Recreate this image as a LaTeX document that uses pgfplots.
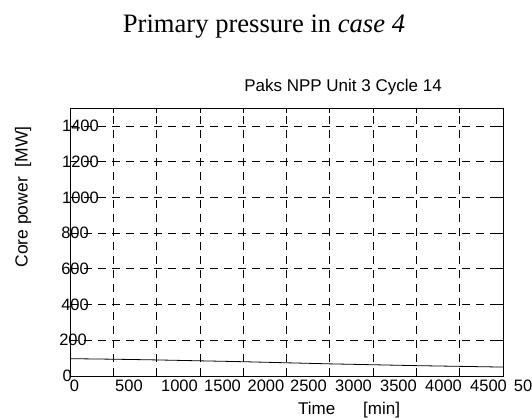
\documentclass[border=0pt]{standalone}
\usepackage{fontspec}
\setmainfont{Liberation Sans}
\newfontfamily\seriffont{Liberation Serif}
\usepackage{pgfplots}
\pgfplotsset{compat=1.18}
\begin{document}
\begin{tikzpicture}[x=1pt,y=1pt]
\path[use as bounding box] (0,0) rectangle (532,418);
\begin{axis}[
  at={(70pt,42pt)}, anchor=south west, scale only axis,
  width=433pt, height=268pt,
  xmin=0, xmax=5000, ymin=0, ymax=1500,
  xtick={0,500,...,5000}, xticklabels={},
  ytick={0,200,...,1400},
  yticklabels={0,200\hspace*{-15pt},400\hspace*{-17pt},600\hspace*{-17pt},800\hspace*{-17pt},1000\hspace*{-27pt},1200\hspace*{-27pt},1400\hspace*{-27pt}},
  grid=major,
  major grid style={black, line width=0.7pt, dash pattern=on 8pt off 6pt},
  axis line style={black, line width=0.8pt},
  tick style={black, line width=0.7pt}, tick align=inside, major tick length=5pt,
  tick label style={font=\fontsize{16.5}{18}\selectfont},
  yticklabel style={inner sep=0pt, xshift=2pt},
]
\addplot[black, line width=0.8pt] coordinates {
  (0,97) (500,94) (1000,90) (1500,85) (2000,80) (2500,74)
  (3000,68) (3500,63) (4000,58) (4500,54) (5000,50)
};
\end{axis}
\begin{axis}[
  at={(70pt,42pt)}, anchor=south west, scale only axis,
  width=519.6pt, height=268pt,
  xmin=0, xmax=6000, ymin=0, ymax=1,
  xtick={52,681,1264,1761,2263,2754,3274,3793,4313,4833,5231},
  xticklabels={0,500,1000,1500,2000,2500,3000,3500,4000,4500,50},
  ytick=\empty,
  axis line style={draw=none}, major tick length=0pt,
  tick label style={font=\fontsize{16.5}{18}\selectfont},
]
\end{axis}
\node[anchor=base] at (264,385) {\seriffont\fontsize{26.6}{30}\selectfont Primary pressure in \textit{case 4}};
\node[anchor=base] at (343,326) {\fontsize{17}{20}\selectfont Paks NPP Unit 3 Cycle 14};
\node[rotate=90] at (23,221) {\fontsize{17.5}{20}\selectfont Core power\ \ [MW]};
\node[anchor=base west, inner sep=0pt] at (298,4) {\fontsize{17}{20}\selectfont Time};
\node[anchor=base west, inner sep=0pt] at (363,4) {\fontsize{17}{20}\selectfont [min]};
\end{tikzpicture}
\end{document}
